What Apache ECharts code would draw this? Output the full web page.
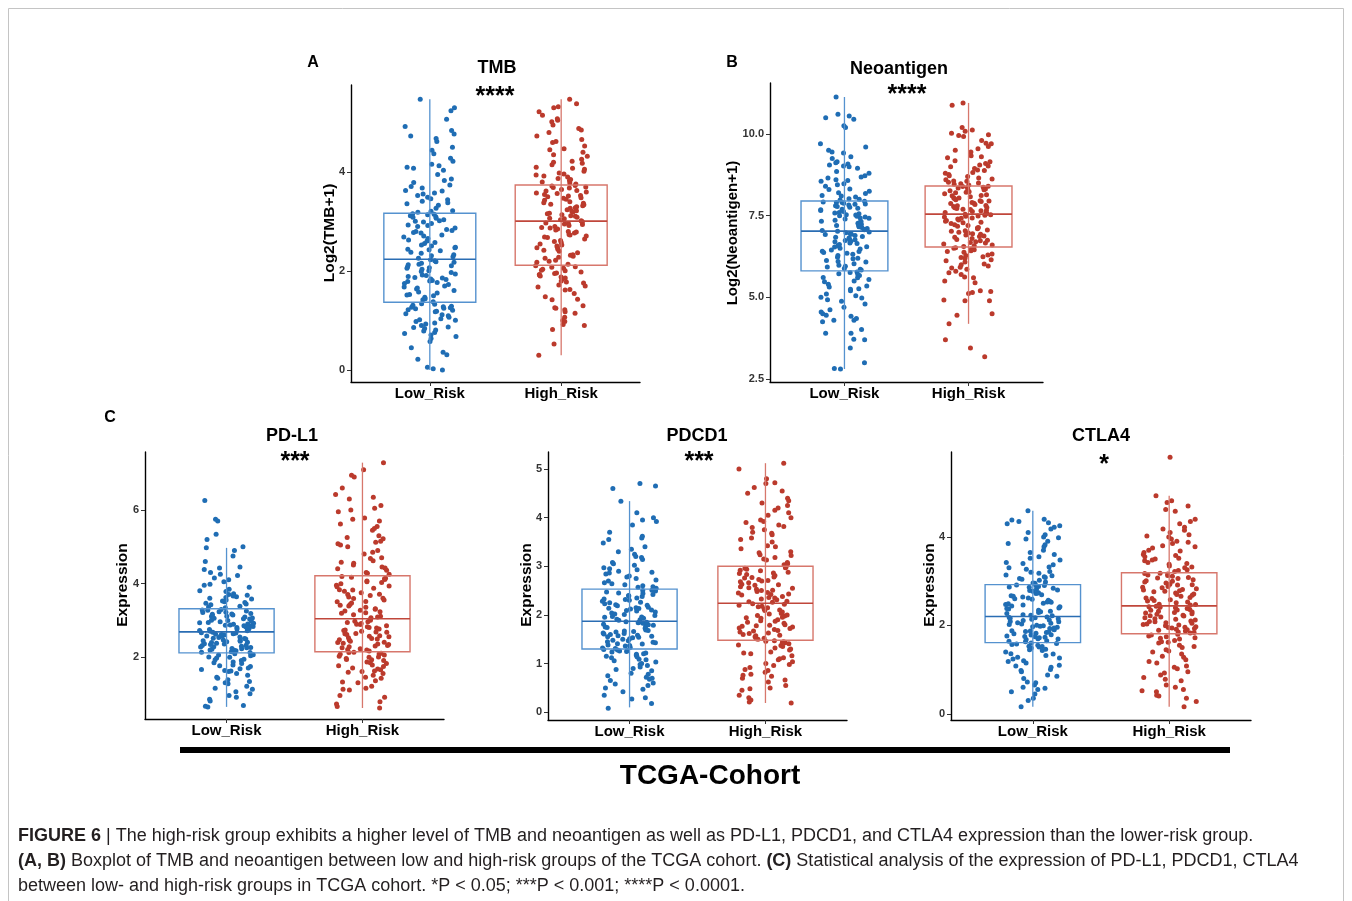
<!DOCTYPE html>
<html>
<head>
<meta charset="utf-8">
<script src="https://cdn.jsdelivr.net/npm/echarts@6/dist/echarts.min.js"></script>
<style>
html,body{margin:0;padding:0;background:#fff;}
#c{position:absolute;left:0;top:0;width:1352px;height:901px;}
</style>
</head>
<body>
<div id="c"></div>
<script>
// ---------- data ----------
const categories = ['Low_Risk', 'High_Risk'];

// box statistics per group: [min(whisker), Q1, median, Q3, max(whisker)]
const tmbBox   = [[0.00, 1.37, 2.24, 3.17, 5.47], [0.30, 2.12, 3.01, 3.74, 5.47]];
const neoBox   = [[2.81, 5.81, 7.03, 7.95, 11.13], [4.19, 6.54, 7.55, 8.41, 10.95]];
const pdl1Box  = [[0.64, 2.11, 2.68, 3.31, 4.97], [0.61, 2.14, 3.04, 4.21, 7.29]];
const pdcd1Box = [[0.10, 1.30, 1.87, 2.53, 4.34], [0.19, 1.48, 2.24, 3.00, 5.12]];
const ctla4Box = [[0.16, 1.61, 2.20, 2.92, 4.59], [0.16, 1.81, 2.44, 3.19, 4.93]];

// individual (jittered) sample values
const tmbLow = [0.00,0.03,0.06,0.22,0.31,0.36,0.58,0.64,0.71,0.74,0.76,0.81,0.84,0.87,0.90,0.93,0.98,1.01,1.04,1.07,1.10,1.14,1.19,1.21,1.24,1.25,1.27,1.29,1.31,1.34,
1.38,1.42,1.47,1.50,1.53,1.56,1.61,1.64,1.66,1.70,1.73,1.77,1.79,1.80,1.83,1.86,1.89,1.91,1.94,1.97,2.01,2.04,2.07,2.09,2.11,2.14,2.16,2.19,2.21,2.23,
2.26,2.29,2.33,2.38,2.41,2.44,2.48,2.51,2.56,2.58,2.61,2.66,2.69,2.73,2.77,2.80,2.84,2.87,2.90,2.93,2.96,2.99,3.02,3.04,3.07,3.10,3.12,3.14,3.15,3.16,
3.19,3.22,3.27,3.33,3.38,3.41,3.44,3.49,3.53,3.58,3.63,3.68,3.74,3.79,3.86,3.95,4.04,4.10,4.13,4.22,4.37,4.44,4.62,4.68,4.77,4.84,4.92,5.07,5.24,5.47,
0.45,0.68,0.95,1.12,1.18,1.28,1.33,1.02,0.86,1.22,0.79,1.26,1.44,1.58,1.68,1.75,1.81,1.84,1.92,1.99,2.06,2.13,2.18,1.52,1.87,
2.31,2.43,2.53,2.63,2.71,2.82,2.92,3.01,3.09,2.47,2.36,2.78,3.21,3.36,3.46,3.56,3.71,3.83,4.08,4.16,4.28,4.50,4.73,5.30,3.62];
const tmbHigh = [0.30,0.53,0.82,0.90,0.92,0.98,1.07,1.18,1.22,1.26,1.30,1.43,1.48,1.55,1.63,1.70,1.72,1.76,1.80,1.84,1.88,1.90,1.93,1.96,1.98,2.01,2.04,2.06,2.09,2.11,
2.14,2.18,2.22,2.26,2.30,2.33,2.37,2.40,2.44,2.48,2.51,2.55,2.58,2.62,2.65,2.68,2.71,2.74,2.77,2.80,2.83,2.85,2.88,2.90,2.92,2.94,2.96,2.97,2.99,3.00,
3.02,3.04,3.07,3.09,3.12,3.14,3.17,3.19,3.22,3.24,3.27,3.30,3.32,3.35,3.37,3.40,3.43,3.45,3.48,3.50,3.53,3.55,3.58,3.60,3.63,3.65,3.68,3.70,3.72,3.73,
3.76,3.80,3.83,3.87,3.90,3.94,3.98,4.02,4.06,4.10,4.15,4.20,4.26,4.32,4.40,4.47,4.53,4.60,4.66,4.73,4.80,4.88,4.95,5.02,5.08,5.15,5.22,5.30,5.38,5.47,
1.00,1.15,1.42,1.62,1.78,1.86,1.95,2.02,2.08,1.25,1.68,1.92,2.20,2.32,2.42,2.53,2.60,2.69,2.79,2.87,2.95,2.28,2.47,2.73,
3.06,3.16,3.21,3.28,3.38,3.47,3.52,3.62,3.69,3.11,3.34,3.57,3.78,3.85,3.96,4.08,4.18,4.35,4.45,4.62,4.85,5.05,5.32,3.92,4.22];
const neoLow = [2.81,2.82,3.00,3.45,3.70,3.72,3.90,4.02,4.25,4.30,4.35,4.42,4.45,4.50,4.62,4.70,4.88,4.93,5.00,5.10,5.20,5.26,5.32,5.40,5.48,5.55,5.61,5.67,5.72,5.78,
5.84,5.88,5.93,5.98,6.03,6.08,6.13,6.18,6.23,6.28,6.32,6.37,6.41,6.45,6.50,6.54,6.58,6.62,6.66,6.70,6.74,6.78,6.82,6.86,6.89,6.92,6.95,6.98,7.00,7.02,
7.05,7.08,7.11,7.14,7.17,7.20,7.24,7.27,7.30,7.33,7.36,7.40,7.43,7.46,7.50,7.53,7.56,7.60,7.63,7.66,7.70,7.73,7.76,7.80,7.83,7.86,7.88,7.90,7.92,7.94,
7.98,8.02,8.07,8.12,8.18,8.25,8.32,8.40,8.48,8.55,8.60,8.65,8.72,8.85,8.95,9.02,9.08,9.15,9.25,9.42,9.45,9.60,9.70,10.20,10.25,10.45,10.50,10.55,10.60,11.13,
3.90,4.30,4.55,4.80,5.05,5.25,5.50,5.60,5.70,5.76,5.35,4.98,5.86,5.95,6.10,6.20,6.35,6.48,6.55,6.65,6.76,6.84,6.93,6.40,6.72,
7.07,7.16,7.22,7.32,7.42,7.48,7.58,7.68,7.78,7.85,7.90,7.52,8.00,8.10,8.20,8.30,8.45,8.58,8.80,9.00,9.12,9.30,9.50,9.05,8.68];
const neoHigh = [3.18,3.45,3.70,4.19,4.45,4.50,4.90,4.92,5.12,5.15,5.20,5.45,5.50,5.62,5.70,5.80,5.86,5.92,5.96,6.02,6.08,6.15,6.20,6.24,6.28,6.33,6.38,6.43,6.48,6.52,
6.56,6.60,6.63,6.66,6.70,6.73,6.77,6.80,6.84,6.88,6.91,6.95,6.99,7.02,7.06,7.10,7.14,7.18,7.22,7.26,7.30,7.33,7.37,7.40,7.43,7.46,7.49,7.51,7.53,7.54,
7.57,7.60,7.63,7.66,7.69,7.72,7.75,7.78,7.81,7.84,7.87,7.90,7.93,7.96,7.99,8.02,8.05,8.08,8.11,8.14,8.17,8.20,8.23,8.26,8.29,8.32,8.35,8.37,8.39,8.40,
8.44,8.48,8.52,8.56,8.60,8.65,8.70,8.76,8.82,8.88,8.94,9.00,9.05,9.10,9.18,9.27,9.33,9.45,9.55,9.62,9.70,9.80,9.92,9.98,10.02,10.08,10.12,10.20,10.88,10.95,
4.90,5.18,5.60,5.75,5.90,6.00,6.12,6.22,6.30,6.40,6.46,6.50,6.58,6.68,6.75,6.86,6.93,7.04,7.12,7.20,7.28,7.35,7.42,7.48,6.97,
7.58,7.65,7.70,7.80,7.88,7.95,8.04,8.12,8.22,8.30,8.36,7.74,8.46,8.55,8.62,8.72,8.80,8.90,9.02,9.15,9.30,9.50,9.72,9.95,8.50];
const pdl1Low = [0.64,0.66,0.68,0.80,0.85,0.90,1.00,1.05,1.12,1.20,1.27,1.33,1.38,1.45,1.55,1.60,1.63,1.66,1.70,1.74,1.78,1.82,1.86,1.90,1.94,1.97,2.00,2.03,2.06,2.09,
2.12,2.14,2.17,2.18,2.21,2.22,2.25,2.26,2.28,2.31,2.32,2.35,2.36,2.39,2.40,2.43,2.44,2.46,2.49,2.50,2.53,2.54,2.56,2.59,2.60,2.62,2.63,2.65,2.66,2.67,
2.70,2.72,2.75,2.76,2.79,2.80,2.83,2.84,2.86,2.89,2.90,2.93,2.94,2.96,2.99,3.00,3.03,3.04,3.06,3.09,3.10,3.13,3.14,3.16,3.18,3.21,3.22,3.25,3.27,3.29,
3.34,3.38,3.42,3.46,3.50,3.55,3.60,3.64,3.68,3.72,3.78,3.84,3.90,3.98,4.05,4.15,4.22,4.30,4.38,4.45,4.60,4.75,4.90,4.97,5.00,5.20,5.34,5.70,5.75,6.26,
0.95,1.15,1.30,1.42,1.50,1.68,1.76,1.84,1.92,1.99,2.05,1.62,2.13,2.19,2.23,2.29,2.34,2.41,2.45,2.51,2.57,2.61,2.64,2.37,2.27,
2.71,2.77,2.82,2.87,2.92,2.97,3.05,3.11,3.17,3.23,3.28,2.85,3.36,3.44,3.52,3.58,3.66,3.70,3.80,3.95,4.10,4.25,4.42,3.62,3.48];
const pdl1High = [0.61,0.65,0.72,0.78,0.95,1.10,1.12,1.20,1.30,1.35,1.42,1.50,1.55,1.60,1.65,1.70,1.74,1.78,1.82,1.86,1.90,1.93,1.96,1.99,2.02,2.05,2.08,2.10,2.12,2.13,
2.16,2.19,2.22,2.25,2.28,2.31,2.34,2.37,2.40,2.43,2.46,2.49,2.52,2.55,2.58,2.61,2.64,2.67,2.70,2.73,2.76,2.79,2.82,2.85,2.88,2.91,2.94,2.97,3.00,3.02,
3.07,3.11,3.15,3.19,3.23,3.27,3.31,3.35,3.39,3.43,3.47,3.51,3.55,3.59,3.63,3.67,3.71,3.75,3.79,3.83,3.87,3.91,3.95,3.99,4.03,4.07,4.11,4.14,4.17,4.19,
4.25,4.30,4.36,4.42,4.50,4.58,4.62,4.70,4.80,4.90,5.00,5.08,5.15,5.22,5.30,5.45,5.55,5.62,5.70,5.78,5.95,6.05,6.12,6.30,6.42,6.60,6.90,6.95,7.10,7.29,
0.90,1.15,1.32,1.45,1.58,1.67,1.76,1.84,1.92,2.00,2.07,1.62,2.20,2.30,2.39,2.47,2.56,2.63,2.72,2.80,2.89,2.96,2.35,2.68,2.50,
3.09,3.20,3.30,3.41,3.50,3.60,3.70,3.82,3.93,4.05,4.13,3.25,4.28,4.40,4.55,4.68,4.85,5.05,5.25,5.50,5.75,6.00,6.35,4.45,5.12];
const pdcd1Low = [0.08,0.18,0.27,0.30,0.42,0.47,0.50,0.55,0.60,0.65,0.70,0.75,0.80,0.85,0.90,0.93,0.96,1.00,1.03,1.06,1.09,1.12,1.15,1.17,1.20,1.22,1.24,1.26,1.28,1.29,
1.31,1.33,1.36,1.37,1.40,1.41,1.44,1.45,1.47,1.50,1.51,1.54,1.55,1.57,1.60,1.61,1.63,1.66,1.67,1.69,1.72,1.73,1.75,1.78,1.79,1.81,1.83,1.84,1.85,1.86,
1.89,1.91,1.93,1.95,1.97,1.99,2.01,2.04,2.06,2.08,2.10,2.12,2.14,2.16,2.19,2.21,2.23,2.25,2.28,2.30,2.33,2.35,2.38,2.40,2.42,2.45,2.47,2.49,2.51,2.52,
2.55,2.58,2.62,2.66,2.70,2.75,2.80,2.84,2.88,2.93,2.97,3.02,3.08,3.14,3.18,3.25,3.30,3.40,3.48,3.55,3.62,3.70,3.85,3.92,4.00,4.10,4.34,4.60,4.65,4.70,
0.35,0.58,0.68,0.78,0.88,0.98,1.08,1.14,1.19,1.25,1.27,0.72,1.32,1.38,1.43,1.48,1.53,1.58,1.62,1.68,1.74,1.80,1.85,1.56,1.65,
1.90,1.96,2.02,2.09,2.15,2.20,2.26,2.32,2.39,2.44,2.50,2.13,2.57,2.64,2.72,2.78,2.86,2.95,3.05,3.20,3.35,3.58,3.95,2.60,2.90];
const pdcd1High = [0.19,0.21,0.25,0.35,0.45,0.50,0.55,0.62,0.70,0.74,0.78,0.82,0.88,0.92,0.96,1.00,1.04,1.08,1.12,1.16,1.20,1.24,1.28,1.32,1.35,1.38,1.41,1.43,1.45,1.47,
1.50,1.52,1.55,1.58,1.60,1.63,1.65,1.68,1.70,1.73,1.75,1.78,1.80,1.83,1.85,1.88,1.90,1.93,1.95,1.98,2.00,2.03,2.06,2.09,2.12,2.15,2.18,2.20,2.22,2.23,
2.26,2.28,2.31,2.33,2.36,2.38,2.41,2.43,2.46,2.48,2.51,2.53,2.56,2.58,2.61,2.63,2.66,2.68,2.71,2.73,2.76,2.78,2.81,2.83,2.86,2.88,2.91,2.94,2.96,2.98,
3.03,3.08,3.13,3.18,3.24,3.30,3.36,3.42,3.50,3.58,3.65,3.70,3.75,3.80,3.85,3.90,3.95,4.05,4.10,4.20,4.25,4.30,4.40,4.50,4.55,4.70,4.72,4.80,5.00,5.12,
0.30,0.48,0.66,0.76,0.86,0.98,1.10,1.22,1.30,1.37,1.44,1.46,1.51,1.57,1.62,1.67,1.72,1.79,1.87,1.94,2.02,2.10,2.17,1.77,1.99,
2.27,2.35,2.42,2.50,2.55,2.62,2.70,2.77,2.85,2.92,2.97,2.45,3.05,3.15,3.28,3.40,3.55,3.68,3.82,3.92,4.00,4.15,4.35,4.62,3.22];
const ctla4Low = [0.16,0.30,0.35,0.50,0.55,0.60,0.65,0.72,0.80,0.88,0.95,1.00,1.05,1.10,1.15,1.20,1.24,1.28,1.32,1.36,1.40,1.43,1.46,1.49,1.51,1.53,1.55,1.57,1.59,1.60,
1.63,1.65,1.68,1.69,1.72,1.73,1.75,1.78,1.79,1.81,1.84,1.85,1.87,1.90,1.91,1.93,1.96,1.97,1.99,2.02,2.03,2.05,2.08,2.09,2.11,2.14,2.15,2.17,2.18,2.19,
2.22,2.24,2.27,2.29,2.32,2.34,2.37,2.39,2.42,2.44,2.47,2.49,2.52,2.54,2.57,2.59,2.62,2.64,2.67,2.69,2.72,2.74,2.77,2.79,2.82,2.84,2.86,2.88,2.90,2.91,
2.95,2.98,3.02,3.06,3.10,3.14,3.18,3.22,3.27,3.32,3.37,3.42,3.48,3.55,3.60,3.70,3.78,3.85,3.90,3.95,4.00,4.05,4.10,4.18,4.25,4.30,4.35,4.38,4.40,4.59,
0.45,0.58,0.70,0.85,0.98,1.08,1.18,1.26,1.35,1.45,1.52,1.58,1.64,1.70,1.76,1.82,1.88,1.94,2.00,2.06,2.12,2.16,1.86,1.98,1.74,
2.23,2.31,2.38,2.46,2.53,2.60,2.66,2.73,2.80,2.87,2.90,2.50,2.96,3.04,3.12,3.20,3.30,3.40,3.52,3.65,3.82,3.98,4.22,4.32,3.08];
const ctla4High = [0.16,0.28,0.35,0.42,0.50,0.55,0.65,0.75,0.82,0.88,0.95,1.02,1.08,1.15,1.22,1.28,1.35,1.40,1.45,1.50,1.55,1.60,1.63,1.66,1.69,1.72,1.74,1.76,1.78,1.80,
1.83,1.85,1.87,1.89,1.91,1.93,1.95,1.97,1.99,2.01,2.03,2.06,2.08,2.10,2.12,2.14,2.17,2.19,2.21,2.23,2.26,2.28,2.30,2.32,2.34,2.36,2.38,2.40,2.42,2.43,
2.46,2.48,2.51,2.53,2.56,2.58,2.61,2.63,2.66,2.68,2.71,2.73,2.76,2.78,2.81,2.83,2.86,2.88,2.91,2.93,2.96,2.98,3.01,3.03,3.06,3.08,3.11,3.13,3.16,3.18,
3.22,3.26,3.30,3.34,3.38,3.42,3.46,3.50,3.55,3.60,3.65,3.70,3.75,3.80,3.85,3.90,3.95,4.00,4.05,4.10,4.15,4.22,4.30,4.40,4.58,4.70,4.78,4.82,4.93,5.80,
0.40,0.52,0.60,0.78,0.92,1.05,1.18,1.30,1.42,1.52,1.62,1.71,1.84,1.90,1.96,2.02,2.09,2.15,2.22,2.29,2.35,2.41,2.05,2.25,1.94,
2.47,2.55,2.62,2.70,2.77,2.85,2.92,3.00,3.07,3.14,3.17,2.80,3.24,3.32,3.40,3.48,3.58,3.68,3.78,3.88,4.02,4.18,4.35,4.62,3.52];

// tick values / labels
const tmbTicks = [0, 2, 4];
const neoTicks = [2.5, 5, 7.5, 10];
const neoTickLabels = ['2.5', '5.0', '7.5', '10.0'];
const pdl1Ticks = [2, 4, 6];
const pdcd1Ticks = [0, 1, 2, 3, 4, 5];
const ctla4Ticks = [0, 2, 4];

// ---------- layout / styling ----------
const FONT = '"Liberation Sans", Arial, sans-serif';
const ptColor = ['#1f6db4', '#bb3a2c'];
const boxColor = ['#5592cf', '#d7776c'];
const medColor = ['#2a6db3', '#c0473b'];

const panels = [
  {grid:{left:351, top:85, width:289, height:297}, ymin:-0.24, ymax:5.76, ticks:tmbTicks, labels:null, box:tmbBox, low:tmbLow, high:tmbHigh},
  {grid:{left:770, top:83, width:273, height:299}, ymin:2.41, ymax:11.56, ticks:neoTicks, labels:neoTickLabels, box:neoBox, low:neoLow, high:neoHigh},
  {grid:{left:145, top:452, width:299, height:267}, ymin:0.31, ymax:7.58, ticks:pdl1Ticks, labels:null, box:pdl1Box, low:pdl1Low, high:pdl1High},
  {grid:{left:548, top:452, width:299, height:268}, ymin:-0.16, ymax:5.35, ticks:pdcd1Ticks, labels:null, box:pdcd1Box, low:pdcd1Low, high:pdcd1High},
  {grid:{left:951, top:452, width:300, height:268}, ymin:-0.14, ymax:5.92, ticks:ctla4Ticks, labels:null, box:ctla4Box, low:ctla4Low, high:ctla4High}
];

// deterministic horizontal jitter (position only)
function jit(i, seed) {
  const s = Math.sin((i + 1) * 12.9898 + seed * 78.233) * 43758.5453;
  return ((s - Math.floor(s)) - 0.5) * 0.4;
}

function renderBox(params, api) {
  const g = api.value(0);
  const ci = g - 1;
  const pMin = api.coord([g, api.value(1)]);
  const pQ1 = api.coord([g, api.value(2)]);
  const pMed = api.coord([g, api.value(3)]);
  const pQ3 = api.coord([g, api.value(4)]);
  const pMax = api.coord([g, api.value(5)]);
  const half = api.size([0.35, 0])[0];
  return {
    type: 'group',
    children: [
      {type:'line', shape:{x1:pMin[0], y1:pMin[1], x2:pMax[0], y2:pMax[1]}, style:{stroke:boxColor[ci], lineWidth:1.3}},
      {type:'rect', shape:{x:pQ1[0]-half, y:pQ3[1], width:2*half, height:pQ1[1]-pQ3[1]}, style:{stroke:boxColor[ci], fill:'none', lineWidth:1.4}},
      {type:'line', shape:{x1:pMed[0]-half, y1:pMed[1], x2:pMed[0]+half, y2:pMed[1]}, style:{stroke:medColor[ci], lineWidth:1.7}}
    ]
  };
}

const grids = [], xAxes = [], yAxes = [], series = [];
panels.forEach((p, k) => {
  grids.push(p.grid);
  xAxes.push({
    type:'value', gridIndex:k, min:0.4, max:2.6,
    splitLine:{show:false},
    axisLine:{show:true, onZero:false, lineStyle:{color:'#000', width:1.4}},
    axisTick:{show:true, length:4, customValues:[1,2], lineStyle:{color:'#333', width:1}},
    axisLabel:{customValues:[1,2], formatter:(v)=>categories[Math.round(v)-1], fontFamily:FONT, fontWeight:'bold', fontSize:15, color:'#000', margin:4}
  });
  yAxes.push({
    type:'value', gridIndex:k, min:p.ymin, max:p.ymax,
    splitLine:{show:false},
    axisLine:{show:true, onZero:false, lineStyle:{color:'#000', width:1.4}},
    axisTick:{show:true, length:4, customValues:p.ticks, lineStyle:{color:'#333', width:1}},
    axisLabel:{customValues:p.ticks, formatter:(v)=>{ if (p.labels) { const i = p.ticks.indexOf(v); return i>=0 ? p.labels[i] : String(v);} return String(v); }, fontFamily:FONT, fontWeight:'bold', fontSize:11, color:'#333', margin:6}
  });
  series.push({
    type:'scatter', xAxisIndex:k, yAxisIndex:k, symbolSize:5, silent:true, z:2,
    itemStyle:{color:ptColor[0], opacity:1},
    data:p.low.map((v,i)=>[1 + jit(i, k*2+1), v])
  });
  series.push({
    type:'scatter', xAxisIndex:k, yAxisIndex:k, symbolSize:5, silent:true, z:2,
    itemStyle:{color:ptColor[1], opacity:1},
    data:p.high.map((v,i)=>[2 + jit(i, k*2+2), v])
  });
  series.push({
    type:'custom', xAxisIndex:k, yAxisIndex:k, silent:true, z:5,
    renderItem:renderBox,
    encode:{x:0, y:[1,2,3,4,5]},
    data:p.box.map((b,i)=>[i+1].concat(b))
  });
});

function txt(t, x, y, size, opts) {
  opts = opts || {};
  return {
    type:'text', x:x, y:y, rotation:opts.rot || 0, silent:true, z:10,
    style:Object.assign({
      text:t, fontFamily:FONT, fontSize:size, fontWeight:opts.weight || 'bold',
      fill:opts.color || '#000', align:opts.align || 'center', verticalAlign:opts.valign || 'middle'
    }, opts.rich ? {rich:opts.rich} : {})
  };
}

const capRich = {b:{fontWeight:'bold', fontSize:18, fontFamily:FONT, fill:'#231f20'}};
const graphics = [
  {type:'rect', silent:true, z:0, shape:{x:8.5, y:8.5, width:1335, height:905}, style:{fill:'none', stroke:'#c4c4c4', lineWidth:1}},
  txt('A', 313, 63, 16), txt('B', 732, 63, 16), txt('C', 110, 418, 16),
  txt('TMB', 497, 68, 18), txt('****', 495, 97, 25),
  txt('Neoantigen', 899, 69, 18), txt('****', 907, 95, 25),
  txt('PD-L1', 292, 436, 18), txt('***', 295, 462, 25),
  txt('PDCD1', 697, 436, 18), txt('***', 699, 462, 25),
  txt('CTLA4', 1101, 436, 18), txt('*', 1104, 465, 25),
  txt('Log2(TMB+1)', 330, 233, 15.5, {rot:Math.PI/2}),
  txt('Log2(Neoantigen+1)', 733, 233, 15, {rot:Math.PI/2}),
  txt('Expression', 123, 585, 15.5, {rot:Math.PI/2}),
  txt('Expression', 527, 585, 15.5, {rot:Math.PI/2}),
  txt('Expression', 930, 585, 15.5, {rot:Math.PI/2}),
  {type:'rect', silent:true, z:10, shape:{x:180, y:747, width:1050, height:6}, style:{fill:'#000'}},
  txt('TCGA-Cohort', 710, 776, 28),
  txt('{b|FIGURE 6} | The high-risk group exhibits a higher level of TMB and neoantigen as well as PD-L1, PDCD1, and CTLA4 expression than the lower-risk group.', 18, 836, 18, {weight:'normal', align:'left', color:'#231f20', rich:capRich}),
  txt('{b|(A, B)} Boxplot of TMB and neoantigen between low and high-risk groups of the TCGA cohort. {b|(C)} Statistical analysis of the expression of PD-L1, PDCD1, CTLA4', 18, 861, 18, {weight:'normal', align:'left', color:'#231f20', rich:capRich}),
  txt('between low- and high-risk groups in TCGA cohort. *P < 0.05; ***P < 0.001; ****P < 0.0001.', 18, 886, 18, {weight:'normal', align:'left', color:'#231f20'})
];

const chart = echarts.init(document.getElementById('c'), null, {renderer:'canvas', width:1352, height:901});
chart.setOption({
  backgroundColor:'#fff',
  animation:false,
  grid:grids, xAxis:xAxes, yAxis:yAxes, series:series,
  graphic:graphics
});
</script>
</body>
</html>
